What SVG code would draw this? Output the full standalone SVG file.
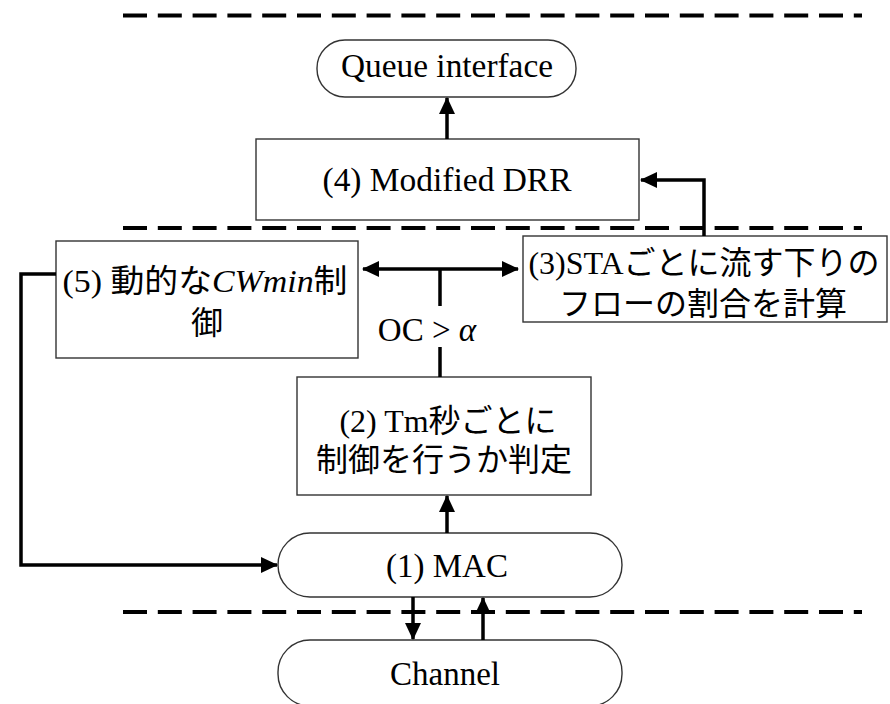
<svg xmlns="http://www.w3.org/2000/svg" width="890" height="704" viewBox="0 0 890 704">
  <defs>
    <marker id="arrow" markerUnits="userSpaceOnUse" markerWidth="18" markerHeight="18" refX="16" refY="8" orient="auto-start-reverse" viewBox="0 0 18 16">
      <path d="M0,0 L17,8 L0,16 z" fill="#000"/>
    </marker>
    <style>
      .box { fill: #fff; stroke: #333; stroke-width: 1.4; }
      .lbl { font-family: "Liberation Serif", "Noto Sans CJK JP", serif; font-size: 32px; fill: #000; text-anchor: middle; }
      .lat { font-size: 33px; }
      .it { font-style: italic; }
      .sep { stroke: #000; stroke-width: 4; stroke-dasharray: 24 10.8; fill: none; }
      .conn { stroke: #000; stroke-width: 3.5; fill: none; }
    </style>
  </defs>

  <!-- layer separators -->
  <g id="separators">
    <line class="sep" x1="123" y1="15.5" x2="862" y2="15.5"/>
    <line class="sep" x1="123" y1="228" x2="862" y2="228"/>
    <line class="sep" x1="123" y1="612" x2="862" y2="612"/>
  </g>

  <g id="queue">
    <rect class="box" x="317" y="40" width="259" height="57" rx="28" ry="28"/>
    <text class="lbl lat" x="447" y="77" textLength="212" lengthAdjust="spacingAndGlyphs">Queue interface</text>
  </g>

  <g id="drr">
    <rect class="box" x="256" y="139" width="383" height="81"/>
    <text class="lbl lat" x="447" y="191" textLength="249" lengthAdjust="spacingAndGlyphs">(4) Modified DRR</text>
  </g>

  <g id="cwmin">
    <rect class="box" x="56" y="241" width="302" height="117"/>
    <text class="lbl" x="205" y="292" textLength="285" lengthAdjust="spacingAndGlyphs">(5) 動的な<tspan class="it">CWmin</tspan>制</text>
    <text class="lbl" x="207" y="334">御</text>
  </g>

  <g id="ratio">
    <rect class="box" x="523" y="236" width="364" height="86"/>
    <text class="lbl" x="704" y="274">(3)STAごとに流す下りの</text>
    <text class="lbl" x="703" y="315">フローの割合を計算</text>
  </g>

  <g id="judge">
    <rect class="box" x="297" y="377" width="294" height="118"/>
    <text class="lbl" x="448" y="432">(2) Tm秒ごとに</text>
    <text class="lbl" x="444" y="471">制御を行うか判定</text>
  </g>

  <g id="mac">
    <rect class="box" x="278" y="533" width="344" height="64" rx="32" ry="32"/>
    <text class="lbl lat" x="447" y="577">(1) MAC</text>
  </g>

  <g id="channel">
    <rect class="box" x="278" y="640" width="344" height="66" rx="32" ry="32"/>
    <text class="lbl lat" x="445" y="685">Channel</text>
  </g>

  <g id="condition">
    <text class="lbl" x="427" y="341"><tspan class="lat">OC &gt; </tspan><tspan class="it lat">α</tspan></text>
  </g>

  <g id="connectors">
    <line class="conn" x1="447" y1="139" x2="447" y2="98" marker-end="url(#arrow)"/>
    <path class="conn" d="M704,236 V180 H641" marker-end="url(#arrow)"/>
    <path class="conn" d="M363,269 H518" marker-start="url(#arrow)" marker-end="url(#arrow)"/>
    <line class="conn" x1="440" y1="269" x2="440" y2="306"/>
    <line class="conn" x1="440" y1="347" x2="440" y2="377"/>
    <line class="conn" x1="447" y1="533" x2="447" y2="496" marker-end="url(#arrow)"/>
    <path class="conn" d="M56,274 H21 V565 H277" marker-end="url(#arrow)"/>
    <line class="conn" x1="413" y1="597" x2="413" y2="639" marker-end="url(#arrow)"/>
    <line class="conn" x1="483" y1="640" x2="483" y2="598" marker-end="url(#arrow)"/>
  </g>
</svg>
